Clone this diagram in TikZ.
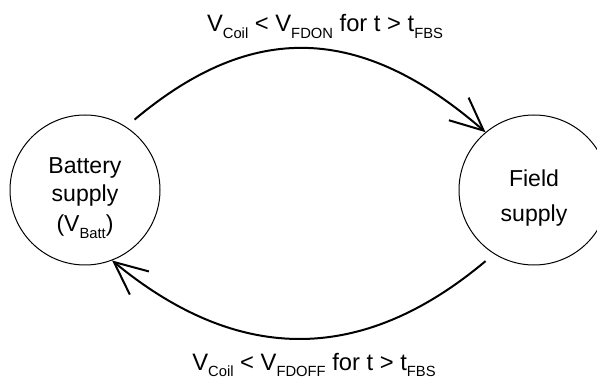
\documentclass[tikz,border=0pt]{standalone}
\usepackage{fontspec}
\setmainfont{Liberation Sans}
\usetikzlibrary{arrows.meta}
\newcommand{\lowsub}[1]{\raisebox{-4.6pt}{\fontsize{10.5}{11}\selectfont #1}}
\begin{document}
\begin{tikzpicture}[
    state/.style={draw,circle,line width=0.025cm,minimum size=3.75cm,inner sep=0pt,align=center,font=\fontsize{16.4}{19.9}\selectfont},
    trans/.style={line width=0.05cm,-{Straight Barb[length=0.825cm,width=0.75cm]}},
    cond/.style={anchor=base,font=\fontsize{16.9}{19.9}\selectfont}]
        \useasboundingbox (0,0) rectangle (14.925,9.5);
        \node[state] at (2.125,4.75) (batt) {\\[3pt]Battery\\supply\\[1.5pt](V\lowsub{Batt})};
        \node[state] at (13.35,4.75) (field) {\\[3pt]Field\\[5pt]supply};
        \node[cond] at (8.125,8.7) (on) {V\lowsub{Coil} < V\lowsub{FDON} for t > t\lowsub{FBS}};
        \node[cond] at (7.85,0.24) (off) {V\lowsub{Coil} < V\lowsub{FDOFF} for t > t\lowsub{FBS}};
        \draw[trans,shorten <=0.275cm] (batt.57) .. controls +(40:3.875) and +(139:4.375) .. (field.130);
        \draw[trans,shorten <=0.275cm] (field.238) .. controls +(220:4.2) and +(320.5:4.2) .. (batt.291);
      \end{tikzpicture}
\end{document}
